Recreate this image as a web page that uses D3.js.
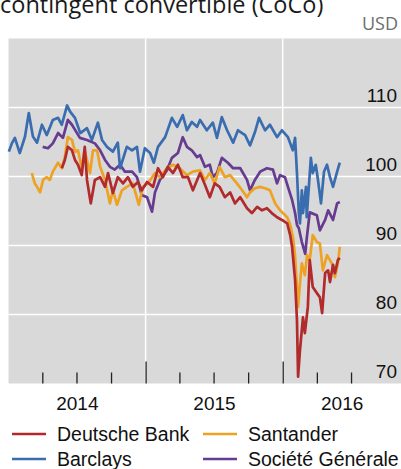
<!DOCTYPE html>
<html><head><meta charset="utf-8">
<script src="https://cdn.jsdelivr.net/npm/d3@7"></script>
<style>
html,body{margin:0;padding:0;background:#fff;}
svg{display:block;}
</style></head>
<body>
<svg id="chart" width="401" height="469"></svg>
<script>
// ---- data ----
const titleText = "contingent convertible (CoCo)";
const unitText = "USD";
const seriesNames = ["Deutsche Bank", "Santander", "Barclays", "Société Générale"];
const seriesColors = ["#b12a2c", "#eea224", "#3a6db0", "#673b8f"];
const yTicks = [70, 80, 90, 100, 110];
const yGrid = [80, 90, 100, 110];
const yearLabels = [["2014-07-02", "2014"], ["2015-07-02", "2015"], ["2016-06-06", "2016"]];
const minorTicks = ["2014-04-01", "2014-07-01", "2014-10-01", "2015-04-01", "2015-07-01", "2015-10-01", "2016-04-01", "2016-07-01"];
const majorTicks = ["2015-01-01", "2016-01-01"];

const deutsche = [["2014-05-23",101.2],["2014-05-31",102.4],["2014-06-08",104.3],["2014-06-19",103.8],["2014-06-27",102.4],["2014-07-05",101.7],["2014-07-15",100.2],["2014-07-23",104.3],["2014-07-29",99.5],["2014-08-08",96.1],["2014-08-19",99.5],["2014-09-02",99.9],["2014-09-15",98.5],["2014-09-23",100.5],["2014-10-06",97.6],["2014-10-19",99.9],["2014-11-02",99.0],["2014-11-15",99.9],["2014-11-28",98.5],["2014-12-12",99.2],["2014-12-22",98.0],["2015-01-05",99.2],["2015-01-21",98.5],["2015-02-03",101.2],["2015-02-16",99.9],["2015-03-01",101.4],["2015-03-15",100.5],["2015-03-28",101.7],["2015-04-10",99.9],["2015-04-24",99.9],["2015-05-07",98.0],["2015-05-26",100.5],["2015-06-08",98.8],["2015-06-21",97.0],["2015-07-04",99.0],["2015-07-17",98.5],["2015-07-31",97.0],["2015-08-14",97.7],["2015-08-27",96.1],["2015-09-10",97.0],["2015-09-28",95.4],["2015-10-11",94.7],["2015-10-25",95.6],["2015-11-07",95.1],["2015-11-20",95.4],["2015-12-03",94.7],["2015-12-17",94.1],["2015-12-30",93.7],["2016-01-13",93.2],["2016-01-21",91.5],["2016-01-26",89.8],["2016-02-03",85.0],["2016-02-08",79.2],["2016-02-11",71.0],["2016-02-16",74.8],["2016-02-24",79.6],["2016-02-29",77.3],["2016-03-08",81.1],["2016-03-13",87.9],["2016-03-21",84.0],["2016-04-01",83.1],["2016-04-09",82.5],["2016-04-15",80.2],["2016-04-23",86.0],["2016-05-01",86.4],["2016-05-06",84.7],["2016-05-14",87.2],["2016-05-19",86.0],["2016-05-27",87.9],["2016-06-01",88.2]];

const santander = [["2014-03-04",100.5],["2014-03-12",99.0],["2014-03-18",98.5],["2014-03-26",97.7],["2014-04-03",99.5],["2014-04-13",99.9],["2014-04-21",99.5],["2014-04-29",100.7],["2014-05-13",102.0],["2014-05-23",101.2],["2014-05-31",102.8],["2014-06-08",105.7],["2014-06-19",105.3],["2014-06-27",103.6],["2014-07-05",103.8],["2014-07-15",101.2],["2014-07-23",103.8],["2014-08-06",100.5],["2014-08-14",103.8],["2014-08-25",103.8],["2014-09-02",101.4],["2014-09-15",99.5],["2014-09-28",96.1],["2014-10-06",98.0],["2014-10-17",95.9],["2014-10-30",98.0],["2014-11-12",98.5],["2014-11-28",99.0],["2014-12-14",95.9],["2014-12-25",98.5],["2015-01-07",99.0],["2015-01-26",100.5],["2015-02-08",99.9],["2015-02-27",101.2],["2015-03-15",101.7],["2015-04-02",101.2],["2015-04-21",100.2],["2015-05-07",100.7],["2015-05-26",100.9],["2015-06-08",99.5],["2015-06-21",100.5],["2015-07-04",99.0],["2015-07-17",101.4],["2015-07-31",99.9],["2015-08-14",100.2],["2015-09-01",99.0],["2015-09-15",98.0],["2015-09-28",97.0],["2015-10-06",97.7],["2015-10-19",98.3],["2015-11-02",98.5],["2015-11-15",98.3],["2015-11-28",98.0],["2015-12-12",96.1],["2015-12-25",95.1],["2016-01-13",94.1],["2016-01-21",93.0],["2016-01-29",91.0],["2016-02-03",88.4],["2016-02-11",81.1],["2016-02-16",84.5],["2016-02-21",87.4],["2016-02-29",85.7],["2016-03-06",88.6],["2016-03-13",87.9],["2016-03-21",91.5],["2016-04-01",90.5],["2016-04-09",90.3],["2016-04-17",86.4],["2016-04-28",88.6],["2016-05-11",87.4],["2016-05-19",85.4],["2016-05-27",87.4],["2016-06-01",89.8]];

const barclays = [["2014-01-02",103.6],["2014-01-10",104.8],["2014-01-18",105.6],["2014-01-31",103.4],["2014-02-14",105.8],["2014-02-24",109.2],["2014-03-07",105.8],["2014-03-18",104.9],["2014-03-31",107.5],["2014-04-13",106.0],["2014-04-29",108.2],["2014-05-13",108.5],["2014-05-23",107.5],["2014-06-06",110.3],["2014-06-14",109.4],["2014-06-27",108.5],["2014-07-11",106.3],["2014-07-29",107.0],["2014-08-11",105.3],["2014-08-27",107.8],["2014-09-07",105.3],["2014-09-20",104.3],["2014-10-06",103.6],["2014-10-19",104.9],["2014-10-25",101.2],["2014-11-12",104.3],["2014-11-26",103.8],["2014-12-09",104.3],["2014-12-17",100.7],["2014-12-30",104.1],["2015-01-13",103.4],["2015-01-23",102.0],["2015-02-03",104.3],["2015-02-22",105.7],["2015-03-12",108.5],["2015-03-26",107.2],["2015-04-10",108.9],["2015-04-21",106.7],["2015-05-04",107.9],["2015-05-18",107.2],["2015-05-26",108.2],["2015-06-13",106.7],["2015-06-29",107.8],["2015-07-10",105.6],["2015-07-23",108.6],["2015-08-06",106.7],["2015-08-22",104.9],["2015-09-04",106.7],["2015-09-23",106.0],["2015-10-06",104.5],["2015-10-19",106.4],["2015-10-30",108.5],["2015-11-15",106.7],["2015-11-28",107.5],["2015-12-17",105.7],["2015-12-30",106.7],["2016-01-15",105.7],["2016-01-28",103.8],["2016-02-03",105.6],["2016-02-08",100.5],["2016-02-13",94.7],["2016-02-16",93.2],["2016-02-21",98.0],["2016-02-24",94.7],["2016-03-03",98.5],["2016-03-05",94.1],["2016-03-16",102.7],["2016-03-21",100.5],["2016-03-29",101.7],["2016-04-04",99.5],["2016-04-12",96.1],["2016-04-20",100.7],["2016-04-28",101.7],["2016-05-06",99.9],["2016-05-14",98.5],["2016-05-19",99.5],["2016-05-25",100.7],["2016-06-01",102.0]];

const socgen = [["2014-04-02",104.3],["2014-04-16",104.1],["2014-04-29",104.8],["2014-05-13",106.3],["2014-05-26",105.6],["2014-06-08",108.2],["2014-06-19",107.5],["2014-06-30",106.5],["2014-07-10",105.6],["2014-07-29",105.3],["2014-08-19",104.8],["2014-09-02",103.8],["2014-09-15",102.4],["2014-09-28",101.4],["2014-10-11",101.0],["2014-10-25",101.7],["2014-11-07",100.7],["2014-11-26",100.7],["2014-12-09",99.9],["2014-12-22",97.3],["2015-01-05",97.0],["2015-01-18",94.9],["2015-01-26",97.7],["2015-02-08",99.5],["2015-02-27",100.9],["2015-03-12",102.7],["2015-03-28",103.4],["2015-04-10",105.7],["2015-04-21",104.3],["2015-05-04",103.8],["2015-05-18",102.8],["2015-05-26",103.1],["2015-06-08",101.4],["2015-06-21",101.7],["2015-06-29",99.9],["2015-07-10",100.5],["2015-07-23",102.7],["2015-08-08",102.0],["2015-08-22",101.2],["2015-09-10",101.2],["2015-09-28",99.5],["2015-10-06",98.0],["2015-10-19",99.5],["2015-11-02",100.7],["2015-11-20",101.2],["2015-12-06",101.0],["2015-12-17",99.0],["2015-12-25",100.2],["2016-01-07",99.9],["2016-01-15",98.5],["2016-01-26",96.6],["2016-02-03",94.7],["2016-02-08",93.0],["2016-02-13",92.5],["2016-02-21",90.5],["2016-03-01",88.8],["2016-03-05",91.0],["2016-03-13",94.8],["2016-04-01",94.4],["2016-04-09",92.2],["2016-04-23",93.7],["2016-05-01",95.1],["2016-05-14",93.7],["2016-05-25",96.1],["2016-06-01",96.3]];

const seriesData = [deutsche, santander, barclays, socgen];

// ---- chart ----
const svg = d3.select("#chart");
const parse = d3.utcParse("%Y-%m-%d");
const plot = {left: 8.5, right: 401, top: 38.5, bottom: 383.5};

const x = d3.scaleUtc()
  .domain([parse("2014-01-01"), parse("2016-11-11")])
  .range([plot.left, plot.right]);
const y = d3.scaleLinear().domain([70, 120]).range([plot.bottom, plot.top]);

const font = "'Liberation Sans', Arial, sans-serif";

// title & unit
svg.append("text").attr("x", 0).attr("y", 13)
  .attr("font-family", "'Open Sans', sans-serif").attr("font-size", 23.5)
  .attr("fill", "#1a1a1a").text(titleText);
svg.append("text").attr("x", 398).attr("y", 30).attr("text-anchor", "end")
  .attr("font-family", "'Open Sans', sans-serif").attr("font-size", 18)
  .attr("fill", "#6d6d6d").text(unitText);

// background
svg.append("rect").attr("x", plot.left).attr("y", plot.top)
  .attr("width", plot.right - plot.left).attr("height", plot.bottom - plot.top)
  .attr("fill", "#d9d9d9");

// horizontal gridlines
svg.append("g").selectAll("line").data(yGrid).join("line")
  .attr("x1", plot.left).attr("x2", plot.right)
  .attr("y1", d => y(d)).attr("y2", d => y(d))
  .attr("stroke", "#fff").attr("stroke-width", 1.5);

// vertical gridlines at year starts
svg.append("g").selectAll("line").data(majorTicks).join("line")
  .attr("x1", d => x(parse(d))).attr("x2", d => x(parse(d)))
  .attr("y1", plot.top).attr("y2", plot.bottom)
  .attr("stroke", "#fff").attr("stroke-width", 1.5);

// y labels (right side, above gridline)
const yAxis = d3.axisLeft(y).tickValues(yTicks).tickSize(0).tickFormat(d3.format("d"));
const gy = svg.append("g").attr("transform", `translate(397,0)`).call(yAxis);
gy.select(".domain").remove();
gy.selectAll("text").attr("dy", null).attr("y", -6).attr("x", 0)
  .attr("font-family", font).attr("font-size", 19).attr("fill", "#111");

// x ticks (pointing up into plot)
const gxMinor = svg.append("g").attr("transform", `translate(0,${plot.bottom})`)
  .call(d3.axisBottom(x).tickValues(minorTicks.map(parse)).tickSizeInner(-11).tickSizeOuter(0).tickFormat(""));
gxMinor.select(".domain").remove();
gxMinor.selectAll("line").attr("stroke", "#222").attr("stroke-width", 1.3);
const gxMajor = svg.append("g").attr("transform", `translate(0,${plot.bottom})`)
  .call(d3.axisBottom(x).tickValues(majorTicks.map(parse)).tickSizeInner(-22).tickSizeOuter(0).tickFormat(""));
gxMajor.select(".domain").remove();
gxMajor.selectAll("line").attr("stroke", "#222").attr("stroke-width", 1.3);

// year labels
const gxLab = svg.append("g").attr("transform", `translate(0,${plot.bottom})`)
  .call(d3.axisBottom(x).tickValues(yearLabels.map(d => parse(d[0]))).tickSize(0)
    .tickFormat((d, i) => yearLabels[i][1]));
gxLab.select(".domain").remove();
gxLab.selectAll("text").attr("dy", null).attr("y", 26)
  .attr("font-family", font).attr("font-size", 19).attr("fill", "#111");

// lines (draw in reverse so Deutsche Bank on top)
const line = d3.line().x(d => x(parse(d[0]))).y(d => y(d[1]));
const order = [3, 2, 1, 0];
svg.append("g").selectAll("path").data(order).join("path")
  .attr("d", i => line(seriesData[i]))
  .attr("fill", "none").attr("stroke", i => seriesColors[i])
  .attr("stroke-width", 2.7).attr("stroke-linejoin", "round");

// legend
const legPos = [[12, 434], [203, 434], [12, 459], [203, 459]];
const leg = svg.append("g").selectAll("g").data(seriesNames).join("g")
  .attr("transform", (d, i) => `translate(${legPos[i][0]},${legPos[i][1]})`);
leg.append("line").attr("x1", 0).attr("x2", 34).attr("y1", 0).attr("y2", 0)
  .attr("stroke", (d, i) => seriesColors[i]).attr("stroke-width", 2.5);
leg.append("text").attr("x", 45).attr("y", 6.5)
  .attr("font-family", font).attr("font-size", 19.5).attr("fill", "#111").text(d => d);
</script>
</body></html>
